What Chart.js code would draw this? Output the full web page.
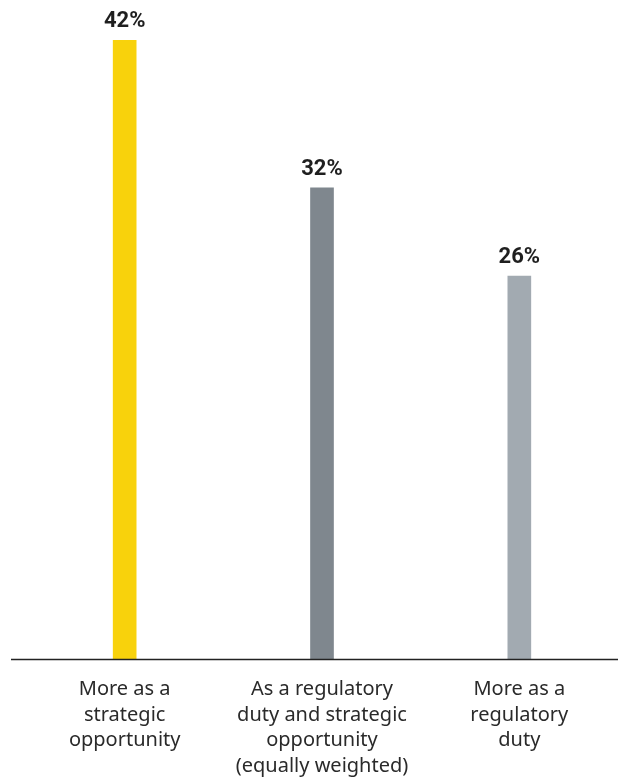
<!DOCTYPE html>
<html>
<head>
<meta charset="utf-8">
<script src="https://cdn.jsdelivr.net/npm/chart.js@4"></script>
<style>
  html, body { margin: 0; padding: 0; background: #fff; }
  #wrap { width: 618px; height: 780px; position: relative; }
</style>
</head>
<body>
<div id="wrap"><canvas id="barChart"></canvas></div>
<script>
// dados
const categories = [
  ['More as a', 'strategic', 'opportunity'],
  ['As a regulatory', 'duty and strategic', 'opportunity', '(equally weighted)'],
  ['More as a', 'regulatory', 'duty']
];
const shares = [42, 32, 26];
const barColors = ['#F8D20C', '#7F878E', '#A2AAB1'];

// rótulos de valor por cima das barras + linha do eixo
const valueLabels = {
  id: 'valueLabels',
  afterDatasetsDraw(chart) {
    const ctx = chart.ctx;
    const meta = chart.getDatasetMeta(0);
    ctx.save();
    ctx.font = 'bold 22px Roboto, "Liberation Sans", sans-serif';
    ctx.fillStyle = '#1f1f1f';
    ctx.textAlign = 'center';
    ctx.textBaseline = 'alphabetic';
    meta.data.forEach((bar, i) => {
      ctx.fillText(shares[i] + '%', bar.x, bar.y - 13);
    });
    // linha base
    const yBase = chart.scales.y.getPixelForValue(0);
    ctx.strokeStyle = '#222';
    ctx.lineWidth = 1.5;
    ctx.beginPath();
    ctx.moveTo(11, yBase + 0.5);
    ctx.lineTo(chart.width, yBase + 0.5);
    ctx.stroke();
    ctx.restore();
  }
};

const ctx = document.getElementById('barChart').getContext('2d');
new Chart(ctx, {
  type: 'bar',
  data: {
    labels: categories,
    datasets: [{
      data: shares,
      backgroundColor: barColors,
      barThickness: 23,
      borderWidth: 0
    }]
  },
  options: {
    responsive: true,
    maintainAspectRatio: false,
    animation: false,
    layout: { padding: { top: 11, left: 26, right: 0, bottom: -17 } },
    plugins: {
      legend: { display: false },
      tooltip: { enabled: false }
    },
    scales: {
      y: {
        display: false,
        min: 0,
        max: 44
      },
      x: {
        grid: { display: false, drawTicks: false },
        border: { display: false },
        ticks: {
          padding: 18,
          maxRotation: 0,
          autoSkip: false,
          color: '#2a2a2a',
          font: { family: '"Noto Sans", sans-serif', size: 20, lineHeight: '25.5px' }
        }
      }
    }
  },
  plugins: [valueLabels]
});
</script>
</body>
</html>
